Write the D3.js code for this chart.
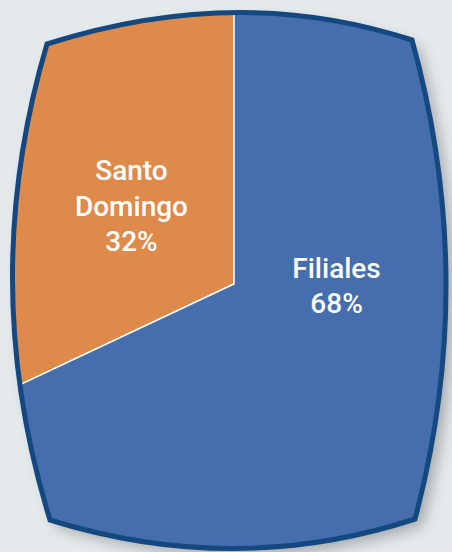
<!DOCTYPE html>
<html>
<head>
    <meta charset="UTF-8">
    <title>Santo Domingo vs Filiales</title>
    <script src="https://d3js.org/d3.v7.min.js"></script>
    <style>
      body { margin:0; background:#e4e9ec; }
    </style>
</head>
<body>
    <svg id="chart"></svg>

    <script>

    // data
    const categories = ["Santo Domingo", "Filiales"];
    const values = [32, 68];
    const labelLines = [["Santo", "Domingo", "32%"], ["Filiales", "68%"]];
    const colors = ["#de8a4a", "#466eac"];

    const width = 452;
    const height = 552;

    const svg = d3.select("#chart")
      .attr("width", width)
      .attr("height", height);

    const defs = svg.append("defs");

    const shadow = defs.append("filter")
      .attr("id", "shadow")
      .attr("x", "-10%").attr("y", "-10%")
      .attr("width", "130%").attr("height", "130%");
    shadow.append("feDropShadow")
      .attr("dx", 7).attr("dy", 7)
      .attr("stdDeviation", 7)
      .attr("flood-color", "#000")
      .attr("flood-opacity", 0.28);

    // bulged square frame, quadratic sides
    const frame = d3.path();
    frame.moveTo(47, 44);
    frame.quadraticCurveTo(238.5, -17, 412, 40);
    frame.quadraticCurveTo(478.5, 280.5, 415, 519);
    frame.quadraticCurveTo(235.5, 577.5, 50, 520);
    frame.quadraticCurveTo(-23.5, 282, 47, 44);
    frame.closePath();

    defs.append("clipPath")
      .attr("id", "frameClip")
      .append("path")
      .attr("d", frame.toString());

    // shadow backing
    svg.append("path")
      .attr("d", frame.toString())
      .attr("fill", colors[1])
      .attr("filter", "url(#shadow)");

    const cx = 234, cy = 284;

    const pie = d3.pie()
      .sort(null)
      .startAngle(0)
      .endAngle(-2 * Math.PI)
      .value(d => d);

    const arcs = pie(values);

    const arc = d3.arc()
      .innerRadius(0)
      .outerRadius(420);

    const chart = svg.append("g")
      .attr("clip-path", "url(#frameClip)")
      .append("g")
      .attr("transform", `translate(${cx}, ${cy})`);

    chart.selectAll("path")
      .data(arcs)
      .enter()
      .append("path")
      .attr("d", arc)
      .attr("fill", (d, i) => colors[i])
      .attr("stroke", "#fff")
      .attr("stroke-width", 1.5);

    // border
    svg.append("path")
      .attr("d", frame.toString())
      .attr("fill", "none")
      .attr("stroke", "#144880")
      .attr("stroke-width", 5)
      .attr("stroke-linejoin", "miter");

    // labels, centroid plus a nudge
    const labelArc = d3.arc().innerRadius(125).outerRadius(125);
    const nudge = [[3, -37], [-3, -73]];
    const lineH = 35.5;

    const labels = svg.append("g")
      .attr("transform", `translate(${cx}, ${cy})`);

    labels.selectAll("text")
      .data(arcs)
      .enter()
      .append("text")
      .attr("text-anchor", "middle")
      .attr("font-family", "Roboto, sans-serif")
      .attr("font-size", "28px")
      .attr("font-weight", 500)
      .attr("fill", "#fff")
      .each(function(d, i) {
        const c = labelArc.centroid(d);
        const t = d3.select(this);
        labelLines[i].forEach((line, j) => {
          t.append("tspan")
            .attr("x", c[0] + nudge[i][0])
            .attr("y", c[1] + nudge[i][1] + j * lineH)
            .text(line);
        });
      });

    </script>
</body>
</html>
